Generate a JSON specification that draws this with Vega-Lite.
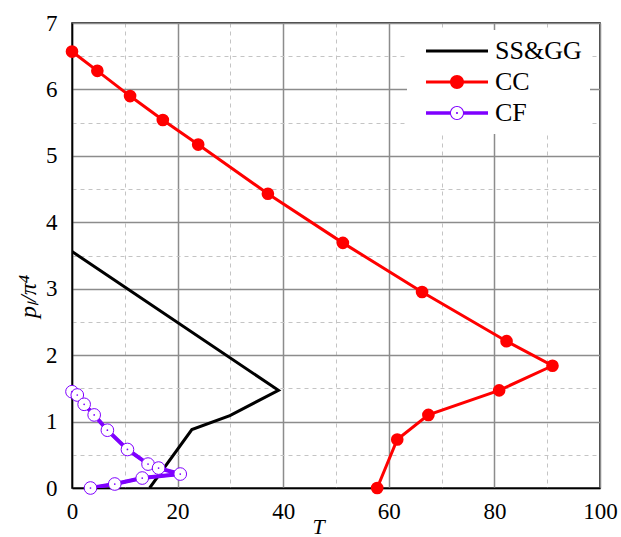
{
  "$schema": "https://vega.github.io/schema/vega-lite/v6.json",
  "width": 528,
  "height": 465,
  "autosize": {"type": "none"},
  "padding": {"left": 72, "top": 23, "right": 21, "bottom": 49},
  "background": "white",
  "config": {
    "view": {"stroke": "black", "strokeWidth": 1.5},
    "font": "Liberation Serif",
    "axis": {"labelFont": "Liberation Serif", "titleFont": "Liberation Serif"}
  },
  "data": {
    "values": [
      {"series": "SS&GG", "ord": 1, "T": 0, "p": 3.56},
      {"series": "SS&GG", "ord": 2, "T": 39.1, "p": 1.47},
      {"series": "SS&GG", "ord": 3, "T": 29.9, "p": 1.09},
      {"series": "SS&GG", "ord": 4, "T": 22.7, "p": 0.88},
      {"series": "SS&GG", "ord": 5, "T": 14.7, "p": 0},
      {"series": "CC", "ord": 1, "T": 0, "p": 6.57},
      {"series": "CC", "ord": 2, "T": 4.8, "p": 6.28},
      {"series": "CC", "ord": 3, "T": 11.0, "p": 5.9},
      {"series": "CC", "ord": 4, "T": 17.2, "p": 5.54},
      {"series": "CC", "ord": 5, "T": 23.9, "p": 5.17},
      {"series": "CC", "ord": 6, "T": 37.1, "p": 4.43},
      {"series": "CC", "ord": 7, "T": 51.3, "p": 3.69},
      {"series": "CC", "ord": 8, "T": 66.3, "p": 2.95},
      {"series": "CC", "ord": 9, "T": 82.3, "p": 2.21},
      {"series": "CC", "ord": 10, "T": 91.0, "p": 1.84},
      {"series": "CC", "ord": 11, "T": 80.9, "p": 1.47},
      {"series": "CC", "ord": 12, "T": 67.5, "p": 1.1},
      {"series": "CC", "ord": 13, "T": 61.6, "p": 0.73},
      {"series": "CC", "ord": 14, "T": 57.8, "p": 0},
      {"series": "CF", "ord": 1, "T": 0, "p": 1.45},
      {"series": "CF", "ord": 2, "T": 1.0, "p": 1.4},
      {"series": "CF", "ord": 3, "T": 2.3, "p": 1.26},
      {"series": "CF", "ord": 4, "T": 4.2, "p": 1.1},
      {"series": "CF", "ord": 5, "T": 6.7, "p": 0.87},
      {"series": "CF", "ord": 6, "T": 10.5, "p": 0.58},
      {"series": "CF", "ord": 7, "T": 14.4, "p": 0.36},
      {"series": "CF", "ord": 8, "T": 16.4, "p": 0.3},
      {"series": "CF", "ord": 9, "T": 20.5, "p": 0.21},
      {"series": "CF", "ord": 10, "T": 13.3, "p": 0.15},
      {"series": "CF", "ord": 11, "T": 8.1, "p": 0.06},
      {"series": "CF", "ord": 12, "T": 3.5, "p": 0}
    ]
  },
  "encoding": {
    "x": {
      "field": "T", "type": "quantitative",
      "scale": {"domain": [0, 100], "nice": false},
      "axis": {
        "values": [0, 10, 20, 30, 40, 50, 60, 70, 80, 90, 100],
        "labelExpr": "datum.value % 20 === 0 ? format(datum.value, 'd') : ''",
        "labelFont": "Liberation Serif",
        "labelFontSize": 23,
        "labelColor": "black",
        "labelPadding": 12,
        "labelFlush": false,
        "ticks": false,
        "domainColor": "black",
        "domainWidth": 1.5,
        "gridColor": {"condition": {"test": "datum.value % 20 !== 0", "value": "#c4c4c4"}, "value": "#8c8c8c"},
        "gridDash": {"condition": {"test": "datum.value % 20 !== 0", "value": [4, 4]}, "value": []},
        "gridWidth": {"condition": {"test": "datum.value % 20 !== 0", "value": 1}, "value": 1.5},
        "title": "T",
        "titleFont": "Liberation Serif",
        "titleFontSize": 22,
        "titleColor": "black",
        "titleFontStyle": "italic",
        "titleFontWeight": "normal",
        "titleBaseline": "alphabetic",
        "titleY": 45,
        "titleX": 246
      }
    },
    "y": {
      "field": "p", "type": "quantitative",
      "scale": {"domain": [0, 7], "nice": false},
      "axis": {
        "values": [0, 0.5, 1, 1.5, 2, 2.5, 3, 3.5, 4, 4.5, 5, 5.5, 6, 6.5, 7],
        "labelExpr": "datum.value % 1 === 0 ? format(datum.value, 'd') : ''",
        "labelFont": "Liberation Serif",
        "labelFontSize": 23,
        "labelColor": "black",
        "labelPadding": 15,
        "labelFlush": false,
        "ticks": false,
        "domainColor": "black",
        "domainWidth": 1.5,
        "gridColor": {"condition": {"test": "datum.value % 1 !== 0", "value": "#c4c4c4"}, "value": "#8c8c8c"},
        "gridDash": {"condition": {"test": "datum.value % 1 !== 0", "value": [4, 4]}, "value": []},
        "gridWidth": {"condition": {"test": "datum.value % 1 !== 0", "value": 1}, "value": 1.5},
        "title": "pₗ/π⁴",
        "titleFont": "Liberation Serif",
        "titleFontSize": 24,
        "titleColor": "black",
        "titleFontStyle": "italic",
        "titleFontWeight": "normal",
        "titlePadding": 5,
        "titleY": 273
      }
    }
  },
  "layer": [
    {
      "mark": {"type": "line", "strokeWidth": 3, "clip": true},
      "encoding": {
        "order": {"field": "ord", "type": "quantitative"},
        "color": {
          "field": "series", "type": "nominal",
          "scale": {"domain": ["SS&GG", "CC", "CF"], "range": ["black", "#ff0000", "#7f00ff"]},
          "legend": {
            "title": null,
            "orient": "none",
            "legendX": 335,
            "legendY": 7,
            "fillColor": "white",
            "padding": 8,
            "labelFont": "Liberation Serif",
            "labelFontSize": 26,
            "labelColor": "black",
            "symbolSize": 400,
            "symbolOffset": 29,
            "labelOffset": 25,
            "rowPadding": 5,
            "encode": {
              "symbols": {
                "update": {
                  "shape": {"signal": "datum.value === 'SS&GG' ? 'M-3.1,-0.15H3.1V0.15H-3.1Z' : datum.value === 'CC' ? 'M-3.1,-0.15H-0.6V0.15H-3.1Z M0.6,-0.15H3.1V0.15H0.6Z M0.7,0A0.7,0.7 0 1,1 -0.7,0A0.7,0.7 0 1,1 0.7,0Z' : 'M-3.1,-0.18H-0.66V0.18H-3.1Z M0.66,-0.18H3.1V0.18H0.66Z M0.7,0A0.7,0.7 0 1,1 -0.7,0A0.7,0.7 0 1,1 0.7,0Z M0.6,0A0.6,0.6 0 1,0 -0.6,0A0.6,0.6 0 1,0 0.6,0Z M0.1,0A0.1,0.1 0 1,1 -0.1,0A0.1,0.1 0 1,1 0.1,0Z'"},
                  "fill": {"scale": "color", "field": "value"},
                  "stroke": {"value": "transparent"},
                  "strokeWidth": {"value": 0},
                  "size": {"value": 400}
                }
              }
            }
          }
        }
      }
    },
    {
      "transform": [{"filter": "datum.series === 'CF'"}],
      "mark": {"type": "line", "strokeWidth": 4, "color": "#7f00ff", "clip": true},
      "encoding": {"order": {"field": "ord", "type": "quantitative"}}
    },
    {
      "transform": [{"filter": "datum.series === 'CC'"}],
      "mark": {"type": "point", "shape": "circle", "filled": true, "size": 160, "color": "#ff0000", "opacity": 1}
    },
    {
      "transform": [{"filter": "datum.series === 'CF'"}],
      "mark": {"type": "point", "shape": "circle", "filled": false, "size": 160, "fill": "white", "stroke": "#7f00ff", "strokeWidth": 1, "opacity": 1}
    },
    {
      "transform": [{"filter": "datum.series === 'CF'"}],
      "mark": {"type": "point", "shape": "circle", "filled": true, "size": 3, "color": "#7f00ff", "opacity": 1}
    }
  ]
}
